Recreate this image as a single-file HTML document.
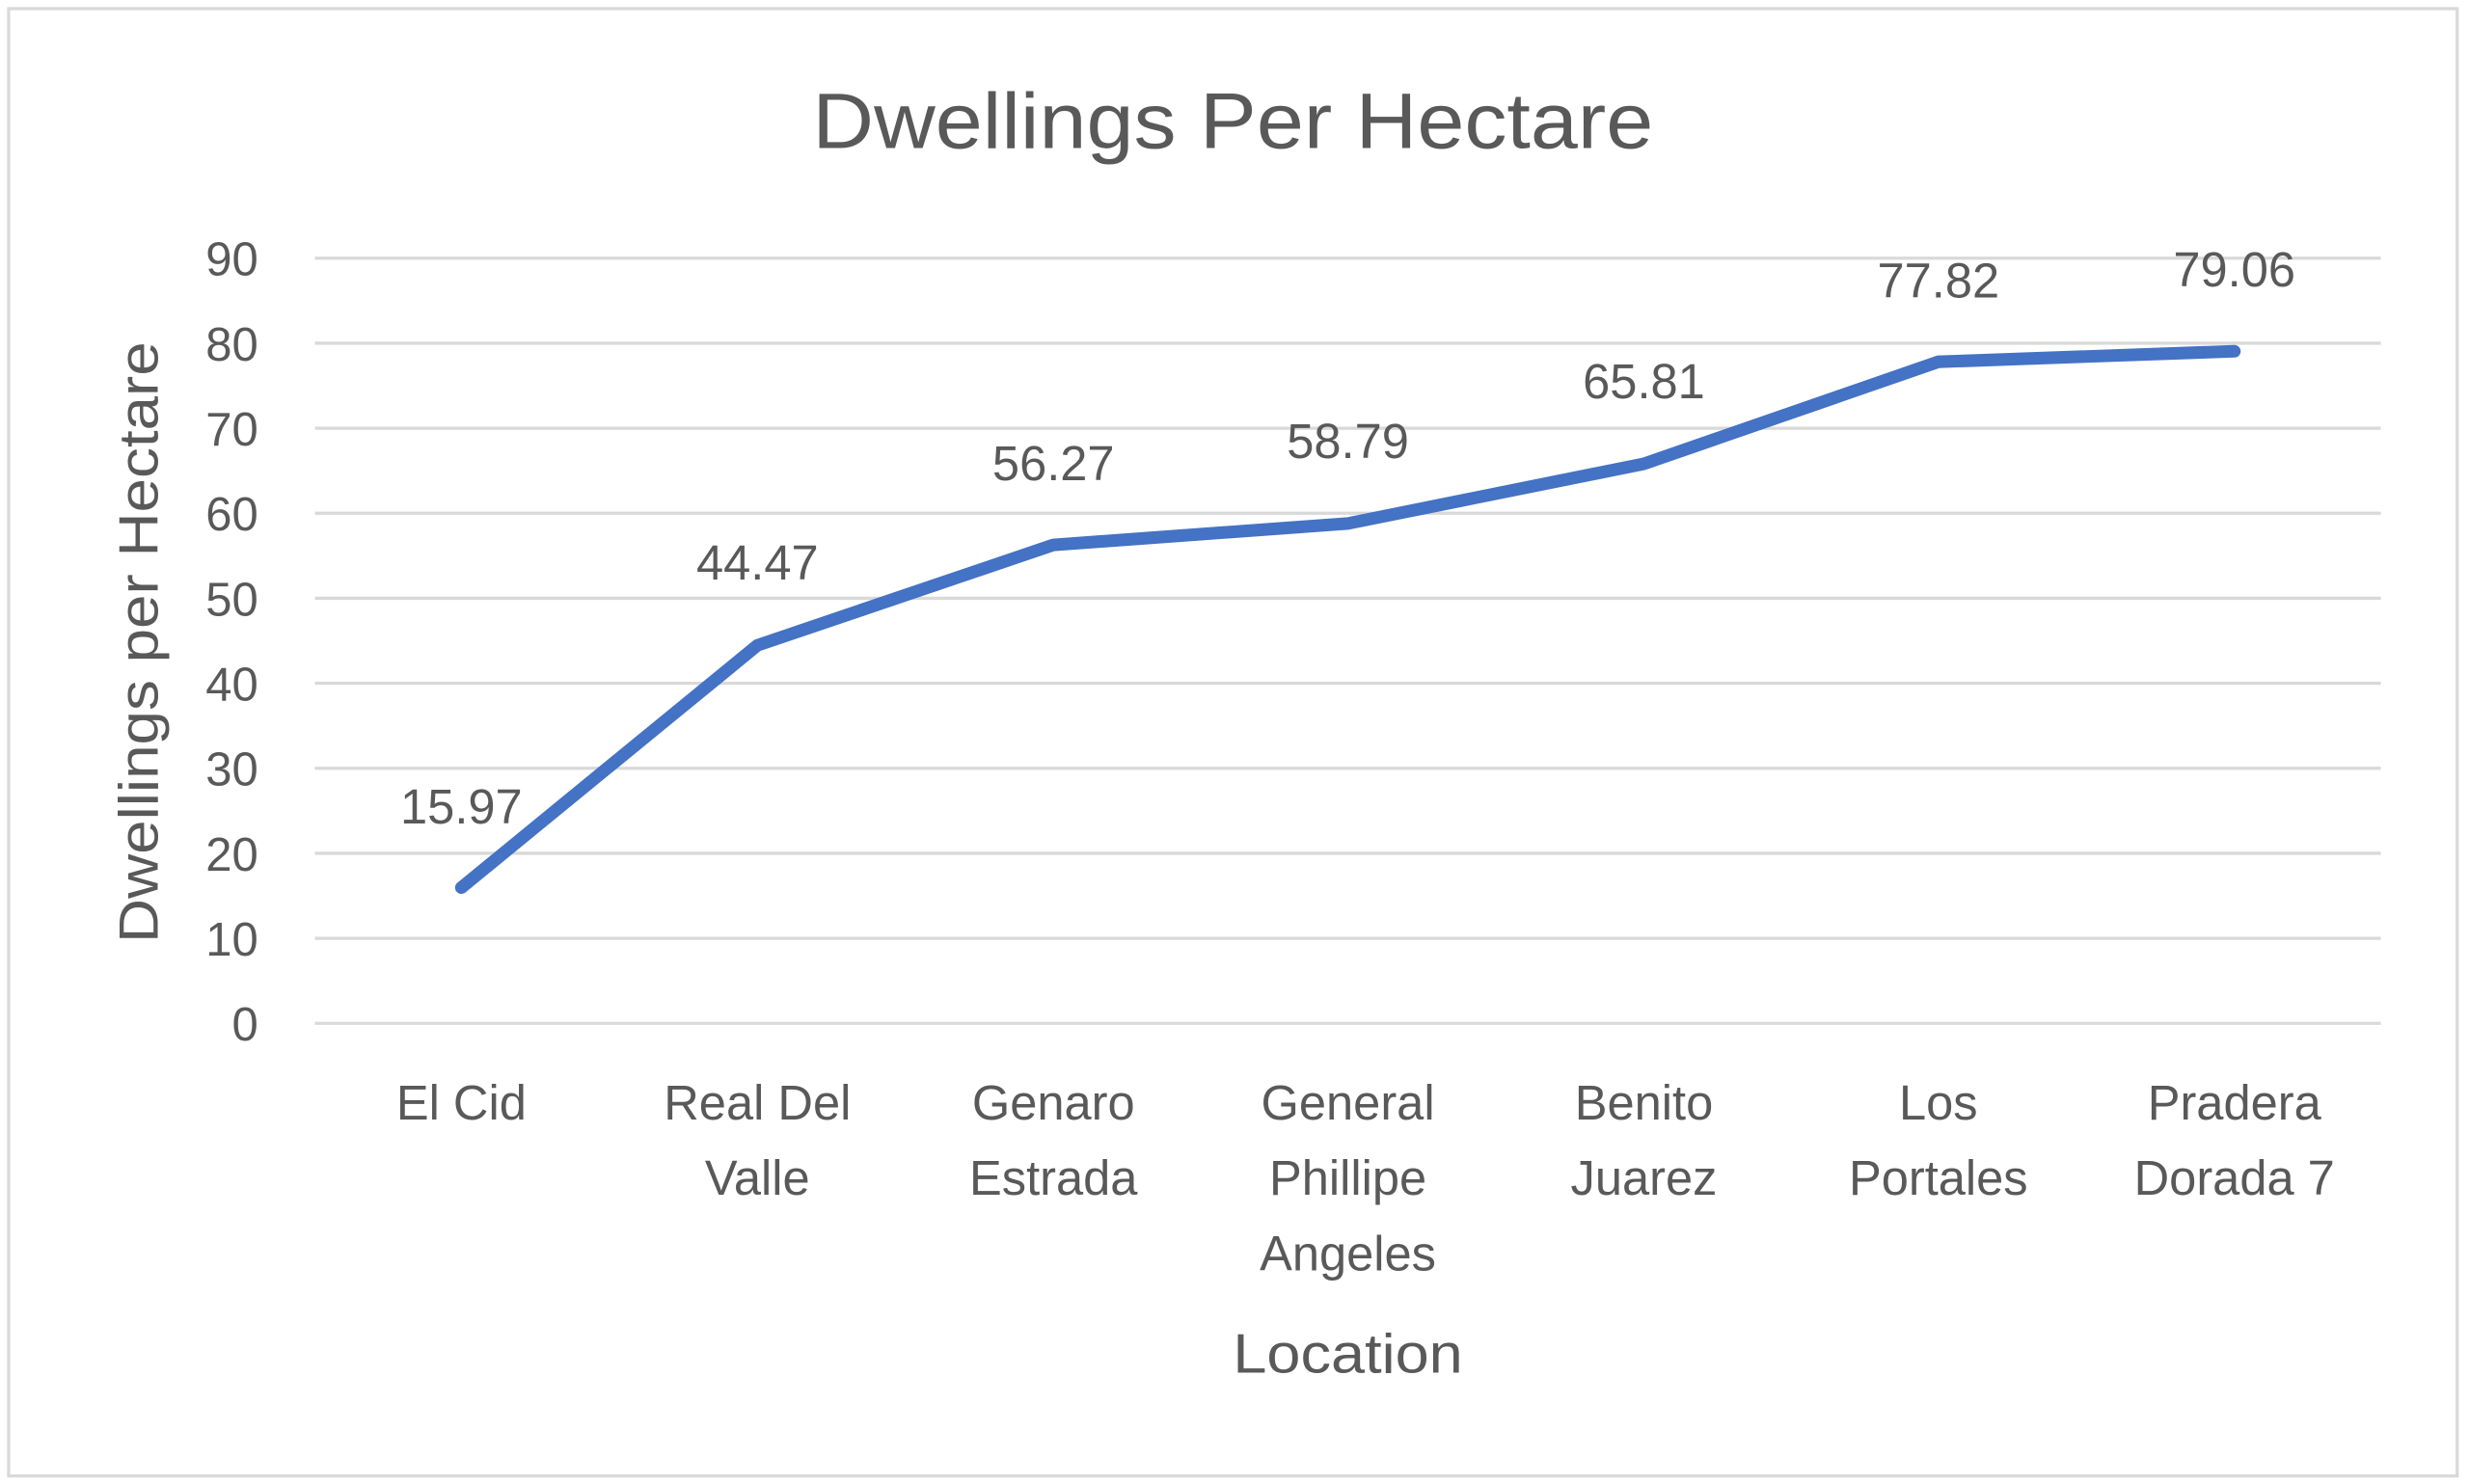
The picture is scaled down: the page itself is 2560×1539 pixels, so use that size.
<!DOCTYPE html>
<html><head><meta charset="utf-8"><style>
html,body{margin:0;padding:0;background:#fff;}
svg{display:block;}
text{font-family:"Liberation Sans",sans-serif;fill:#595959;}
</style></head><body>
<svg width="2560" height="1539" viewBox="0 0 1568 942.6" preserveAspectRatio="none" xmlns="http://www.w3.org/2000/svg">
<rect x="0" y="0" width="1568" height="942.6" fill="#fff"/>
<rect x="5.5" y="5.5" width="1555" height="932" fill="none" stroke="#d9d9d9" stroke-width="2"/>
<text x="783" y="94" font-size="50" text-anchor="middle" textLength="534" lengthAdjust="spacingAndGlyphs">Dwellings Per Hectare</text>
<g stroke="#d9d9d9" stroke-width="2">
<line x1="200" x2="1512" y1="164" y2="164"/>
<line x1="200" x2="1512" y1="218" y2="218"/>
<line x1="200" x2="1512" y1="272" y2="272"/>
<line x1="200" x2="1512" y1="326" y2="326"/>
<line x1="200" x2="1512" y1="380" y2="380"/>
<line x1="200" x2="1512" y1="434" y2="434"/>
<line x1="200" x2="1512" y1="488" y2="488"/>
<line x1="200" x2="1512" y1="542" y2="542"/>
<line x1="200" x2="1512" y1="596" y2="596"/>
<line x1="200" x2="1512" y1="650" y2="650"/>
</g>
<g font-size="30" text-anchor="end">
<text x="164" y="175">90</text><text x="164" y="229">80</text><text x="164" y="283">70</text>
<text x="164" y="337">60</text><text x="164" y="391">50</text><text x="164" y="445">40</text>
<text x="164" y="499">30</text><text x="164" y="553">20</text><text x="164" y="607">10</text>
<text x="164" y="661">0</text>
</g>
<text transform="translate(100,408) rotate(-90)" font-size="35" text-anchor="middle" textLength="382" lengthAdjust="spacingAndGlyphs">Dwellings per Hectare</text>
<polyline fill="none" stroke="#4472c4" stroke-width="8" stroke-linecap="round" stroke-linejoin="round"
points="293,563.8 481,409.9 669,346.1 856,332.5 1044,294.6 1231,229.8 1419,223.1"/>
<g font-size="31" text-anchor="middle" fill="#404040">
<text x="293" y="523">15.97</text><text x="481" y="368">44.47</text><text x="669" y="305">56.27</text>
<text x="856" y="291">58.79</text><text x="1044" y="253">65.81</text><text x="1231" y="189">77.82</text>
<text x="1419" y="182">79.06</text>
</g>
<g font-size="31" text-anchor="middle">
<text x="293" y="711">El Cid</text>
<text x="481" y="711">Real Del</text><text x="481" y="759">Valle</text>
<text x="669" y="711">Genaro</text><text x="669" y="759">Estrada</text>
<text x="856" y="711">General</text><text x="856" y="759">Phillipe</text><text x="856" y="807">Angeles</text>
<text x="1044" y="711">Benito</text><text x="1044" y="759">Juarez</text>
<text x="1231" y="711">Los</text><text x="1231" y="759">Portales</text>
<text x="1419" y="711">Pradera</text><text x="1419" y="759">Dorada 7</text>
</g>
<text x="856" y="872" font-size="35" text-anchor="middle" textLength="146" lengthAdjust="spacingAndGlyphs">Location</text>
</svg>
</body></html>
